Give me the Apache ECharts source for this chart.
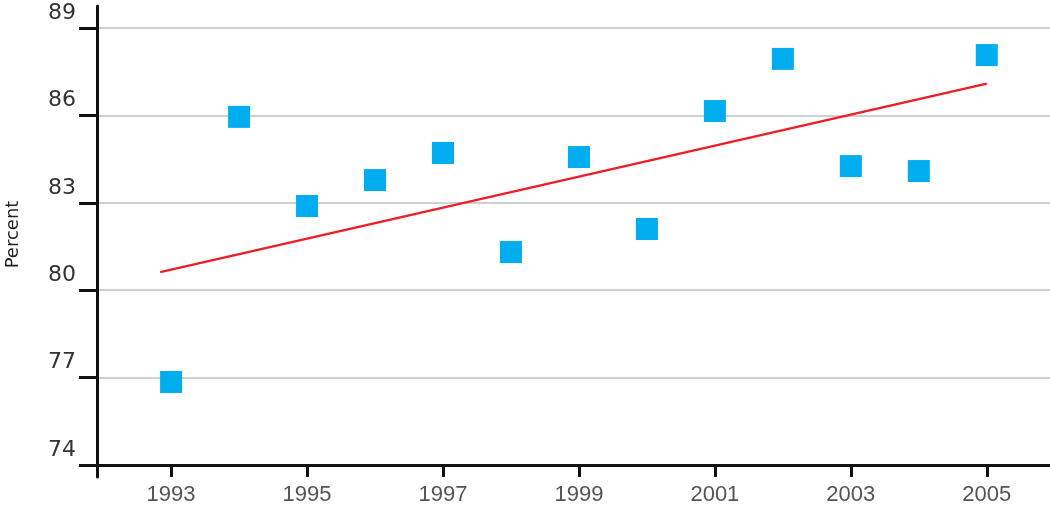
<!DOCTYPE html>
<html>
<head>
<meta charset="utf-8">
<script src="https://cdn.jsdelivr.net/npm/echarts@6/dist/echarts.min.js"></script>
<style>
html,body{margin:0;padding:0;background:#fff;}
#c{width:1050px;height:505px;}
</style>
</head>
<body>
<div id="c"></div>
<script>
const years = [1993,1994,1995,1996,1997,1998,1999,2000,2001,2002,2003,2004,2005];
const percent = [76.85,85.95,82.89,83.78,84.71,81.31,84.57,82.10,86.15,87.94,84.26,84.09,88.07];
const trendYears = [1992.84, 2005];
const trendValues = [80.62, 87.09];
const xTickLabels = [1993,1995,1997,1999,2001,2003,2005];
const yTicks = [74,77,80,83,86,89];

const chart = echarts.init(document.getElementById('c'), null, {renderer:'canvas'});
chart.setOption({
  animation:false,
  backgroundColor:'#fff',
  grid:[
    {left:97,right:0,top:28,bottom:40,containLabel:false,outerBoundsMode:'none'},
    {left:97,right:0,top:6,bottom:28,containLabel:false,outerBoundsMode:'none'}
  ],
  xAxis:[
    {type:'value',gridIndex:0,min:1991.91,max:2005.93,
     axisLine:{show:true,onZero:false,lineStyle:{color:'#111',width:3}},
     axisTick:{show:true,length:12,lineStyle:{color:'#111',width:3},customValues:xTickLabels},
     axisLabel:{customValues:xTickLabels,margin:19,color:'#555',fontSize:22,fontFamily:'Liberation Sans',formatter:v=>String(v)},
     splitLine:{show:false}},
    {type:'value',gridIndex:1,min:0,max:1,show:false}
  ],
  yAxis:[
    {type:'value',gridIndex:0,min:yTicks[0],max:yTicks[yTicks.length-1],interval:3,
     name:'Percent',nameLocation:'middle',nameRotate:90,nameGap:75,
     nameTextStyle:{color:'#222',fontSize:18,fontFamily:'DejaVu Sans',padding:[0,0,0,24]},
     axisLine:{show:true,onZero:false,lineStyle:{color:'#111',width:3}},
     axisTick:{show:true,length:18,lineStyle:{color:'#111',width:3}},
     axisLabel:{margin:21,color:'#333',fontSize:22,fontFamily:'DejaVu Sans',verticalAlign:'bottom',padding:[0,0,4,0]},
     splitLine:{show:true,lineStyle:{color:'#c0c0c0',width:1.5}}},
    {type:'value',gridIndex:1,min:0,max:1,
     axisLine:{show:true,onZero:false,lineStyle:{color:'#111',width:3}},
     axisTick:{show:false},axisLabel:{show:false},splitLine:{show:false}}
  ],
  series:[
    {type:'line',xAxisIndex:0,yAxisIndex:0,data:trendYears.map((y,i)=>[y,trendValues[i]]),
     symbol:'none',lineStyle:{color:'#ee1c24',width:2.2},z:2},
    {type:'scatter',xAxisIndex:0,yAxisIndex:0,data:years.map((y,i)=>[y,percent[i]]),
     symbol:'rect',symbolSize:22,itemStyle:{color:'#00aeef',opacity:1},z:3}
  ]
});
</script>
</body>
</html>
